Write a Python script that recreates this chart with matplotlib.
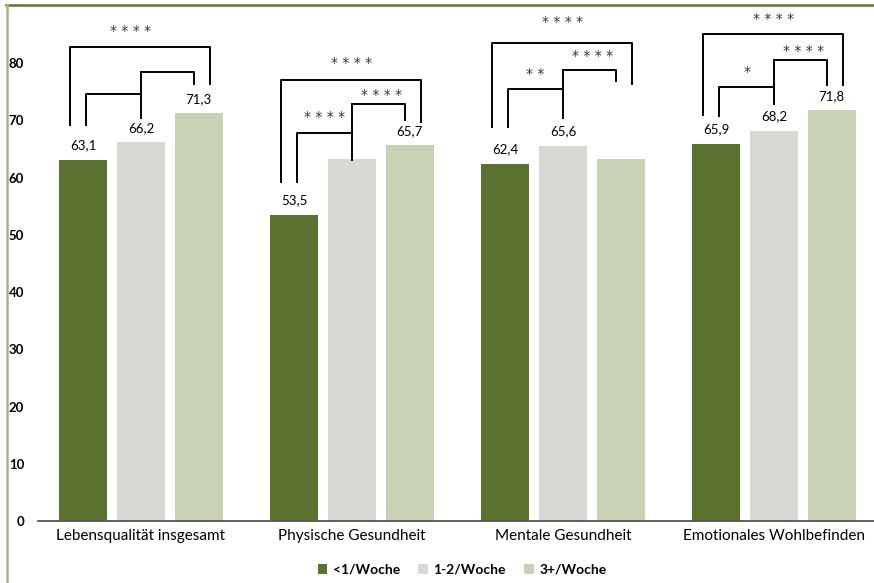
import matplotlib
matplotlib.use('Agg')
import matplotlib.pyplot as plt
from matplotlib import font_manager
from matplotlib.lines import Line2D
import numpy as np

installed = {f.name for f in font_manager.fontManager.ttflist}
main_font = 'Liberation Sans Narrow' if 'Liberation Sans Narrow' in installed else 'Lato'
plt.rcParams['font.family'] = [main_font, 'DejaVu Sans']

# data
categories = ['Lebensqualität insgesamt', 'Physische Gesundheit',
              'Mentale Gesundheit', 'Emotionales Wohlbefinden']
groups = ['<1/Woche', '1-2/Woche', '3+/Woche']
low = [63.1, 53.5, 62.4, 65.9]
mid = [66.2, 63.2, 65.6, 68.2]
high = [71.3, 65.7, 63.2, 71.8]
# value labels as printed (None = no label in the original)
low_labels = ['63,1', '53,5', '62,4', '65,9']
mid_labels = ['66,2', None, '65,6', '68,2']
high_labels = ['71,3', '65,7', None, '71,8']
# significance stars: outer (<1 vs 3+), left (<1 vs 1-2), right (1-2 vs 3+)
stars_outer = ['* * * *', '* * * *', '* * * *', '* * * *']
stars_left = ['', '* * * *', '* *', '*']
stars_right = ['', '* * * *', '* * * *', '* * * *']

colors = ['#5b7130', '#d7d9d3', '#c7d1b3']

# bracket heights per group (y of leg ends and bars)
br_outer = [(69.2, 82.8, 76.3), (59.2, 77.0, 69.7), (68.8, 83.5, 76.3), (70.9, 85.1, 76.2)]
br_left = [(69.2, 74.6), (59.2, 67.8), (68.8, 75.5), (70.7, 75.8)]
br_mid = [(78.4, 70.4), (72.8, 63.1), (78.8, 70.4), (80.5, 72.8)]
br_right_end = [76.3, 70.0, 76.9, 76.2]
star_y = [(85.8, None, None), (80.2, 70.7, 74.6), (87.3, 78.3, 81.4), (87.9, 78.6, 82.3)]

fig = plt.figure(figsize=(8.74, 5.83), dpi=100)
ax = fig.add_axes([38 / 874, 62 / 583, 836 / 874, 515 / 583])

x = np.arange(len(categories))
off = 0.273
w = 0.227
bars = []
for i, (vals, labs) in enumerate(zip([low, mid, high], [low_labels, mid_labels, high_labels])):
    b = ax.bar(x + (i - 1) * off, vals, w, color=colors[i], label=groups[i])
    bars.append(b)
    for xi, v, lab in zip(x + (i - 1) * off, vals, labs):
        if lab:
            ax.annotate(lab, (xi, v), xytext=(0, 6), textcoords='offset points',
                        ha='center', va='bottom', fontsize=9.5, color='black')

lw = 1.4
star_kw = dict(ha='center', va='center', fontsize=10, color='#333333', family='DejaVu Sans')
dy = -0.1
for g in range(len(categories)):
    xo_l, xi_l, xm, xi_r, xo_r = g - 0.335, g - 0.26, g, g + 0.25, g + 0.325
    yb, yt, yr = br_outer[g]
    ax.plot([xo_l, xo_l, xo_r, xo_r], [yb, yt, yt, yr], color='black', lw=lw)
    lb, lt = br_left[g]
    ax.plot([xi_l, xi_l, xm], [lb, lt, lt], color='black', lw=lw)
    mt, mb = br_mid[g]
    ax.plot([xm, xm], [mt, mb], color='black', lw=lw)
    ax.plot([xm, xi_r, xi_r], [mt, mt, br_right_end[g]], color='black', lw=lw)
    so, sl, sr = star_y[g]
    ax.text(g - (0.05 if g == 0 else 0), so + dy, stars_outer[g], **star_kw)
    if sl and stars_left[g]:
        ax.text(g - 0.13, sl + dy, stars_left[g], **star_kw)
    if sr and stars_right[g]:
        ax.text(g + 0.14, sr + dy, stars_right[g], **star_kw)

ax.set_xlim(-0.488, 3.474)
ax.set_ylim(0, 90)
ax.set_yticks(range(0, 90, 10))
ax.set_xticks(x)
ax.set_xticklabels(categories, fontsize=11, color='black')
for t in ax.get_yticklabels():
    t.set_fontweight('bold')
    t.set_fontsize(9.5)
ax.tick_params(axis='y', length=0, pad=10)
ax.tick_params(axis='x', length=0, pad=6)
for s in ['top', 'right', 'left']:
    ax.spines[s].set_visible(False)
ax.spines['bottom'].set_color('#555555')
ax.spines['bottom'].set_linewidth(1.3)

handles = [b.patches[0] for b in bars]
leg = fig.legend(handles, groups, loc='center',
                 bbox_to_anchor=(462 / 874, 13 / 583), ncol=3, frameon=False,
                 handlelength=0.7, handleheight=0.7, handletextpad=0.4,
                 columnspacing=1.3, prop={'size': 10, 'weight': 'bold'})

# frame lines of the figure box
fig.add_artist(Line2D([6 / 874, 1], [1 - 4.5 / 583, 1 - 4.5 / 583], transform=fig.transFigure,
                      color='#5a7a2a', lw=1.8))
fig.add_artist(Line2D([7 / 874, 7 / 874], [0, 1 - 4.5 / 583], transform=fig.transFigure,
                      color='#a5b58a', lw=1.8))

fig.savefig('out.png', dpi=100)
